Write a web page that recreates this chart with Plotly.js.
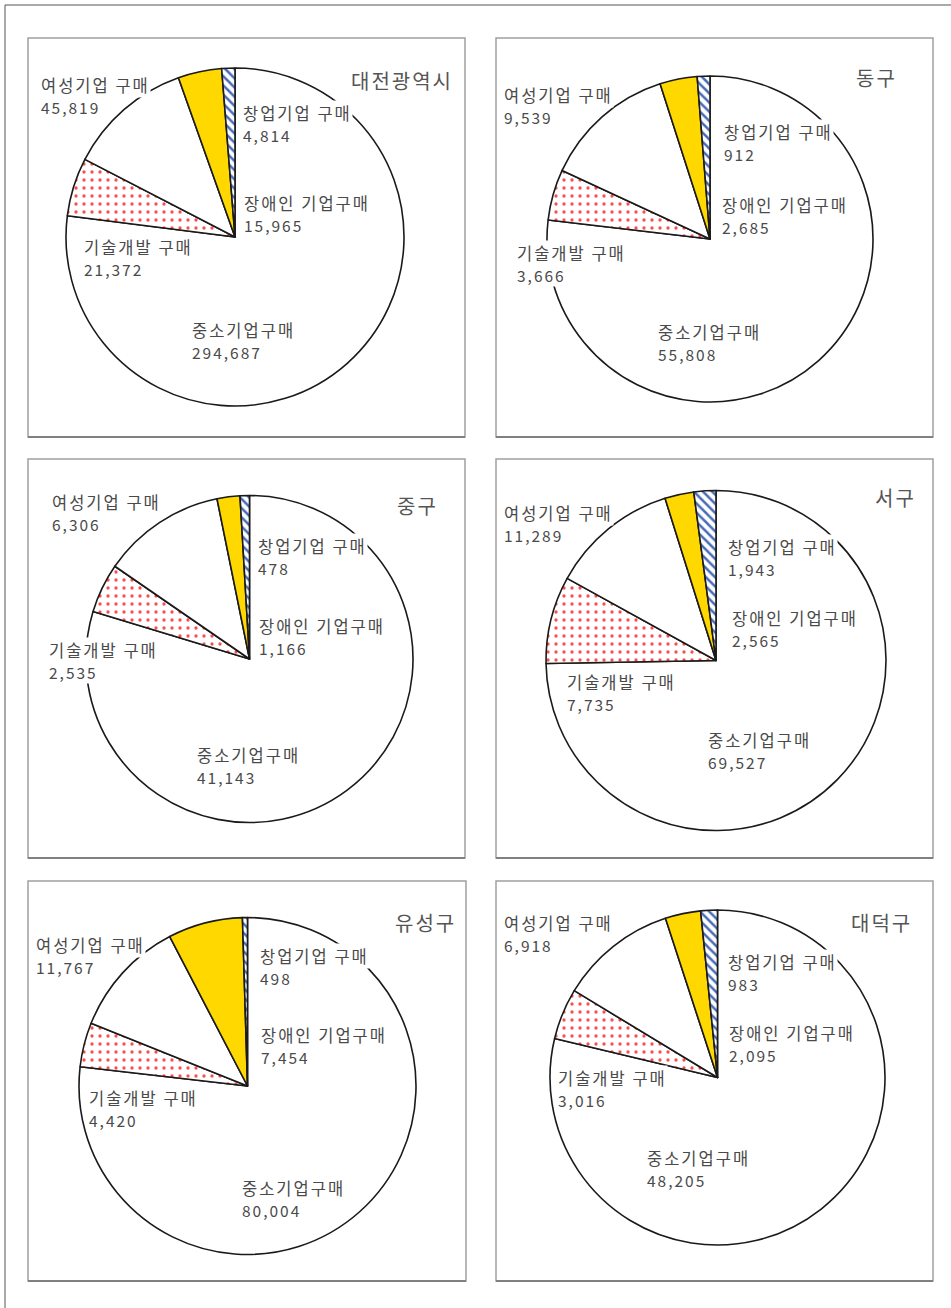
<!DOCTYPE html>
<html>
<head>
<meta charset="utf-8">
<script src="https://cdn.plot.ly/plotly-3.0.1.min.js"></script>
<style>
  html, body { margin: 0; padding: 0; background: #ffffff; }
  #chart { width: 951px; height: 1308px; }
  text.annotation-text { letter-spacing: 2px; }
</style>
</head>
<body>
<div id="chart"></div>
<script>
// ---- data ----
const categories = ['중소기업구매', '기술개발 구매', '여성기업 구매', '장애인 기업구매', '창업기업 구매'];
const regions = ['대전광역시', '동구', '중구', '서구', '유성구', '대덕구'];
const daejeon = [294687, 21372, 45819, 15965, 4814];
const donggu  = [55808, 3666, 9539, 2685, 912];
const junggu  = [41143, 2535, 6306, 1166, 478];
const seogu   = [69527, 7735, 11289, 2565, 1943];
const yuseong = [80004, 4420, 11767, 7454, 498];
const daedeok = [48205, 3016, 6918, 2095, 983];
const regionValues = [daejeon, donggu, junggu, seogu, yuseong, daedeok];

// ---- layout (pixel geometry) ----
const W = 951, H = 1308;
// panel boxes [x0, y0, x1, y1]
const panels = [
  [28, 38, 465, 437], [496, 38, 933, 437],
  [28, 459, 465, 858], [496, 459, 933, 858],
  [28, 881, 466, 1281], [496, 881, 933, 1281]
];
// pie centre and radius
const pies = [
  [235, 237, 169], [710, 239, 163],
  [249.5, 659, 163.5], [716, 660.5, 170],
  [247.5, 1086, 168.5], [717.5, 1077.5, 167.5]
];
// label anchor positions (left x, first-line centre y) per category, per panel
const labelPos = [
  [[191, 330], [83, 247], [40, 85], [243, 203], [242, 113]],
  [[657, 332], [516, 253], [503, 95], [721, 205], [723, 132]],
  [[196, 755], [48, 650], [51, 502], [258, 626], [257, 546]],
  [[707, 740], [566, 682], [503, 513], [731, 618], [727, 547]],
  [[241, 1188], [88, 1098], [35, 945], [260, 1035], [259, 956]],
  [[646, 1158], [557, 1078], [503, 923], [728, 1033], [727, 962]]
];
const lineGap = 22;
// title anchor (right x, middle y)
const titlePos = [[455, 80], [899, 77], [440, 505], [918, 497], [458, 922], [914, 922]];

const sliceColors = ['#ffffff', '#ff4a4a', '#ffffff', '#ffd800', '#4a6cb8'];
const sliceShapes = ['', '.', '', '', '\\'];

const traces = [];
const annotations = [];
const shapes = [];

regions.forEach((reg, i) => {
  const [cx, cy, r] = pies[i];
  traces.push({
    type: 'pie',
    labels: categories,
    values: regionValues[i],
    sort: false,
    direction: 'clockwise',
    rotation: 0,
    textinfo: 'none',
    hoverinfo: 'label+value',
    showlegend: false,
    domain: {
      x: [(cx - r) / W, (cx + r) / W],
      y: [1 - (cy + r) / H, 1 - (cy - r) / H]
    },
    marker: {
      colors: sliceColors,
      line: { color: '#1a1a1a', width: 1.6 },
      pattern: {
        shape: sliceShapes,
        fillmode: 'replace',
        bgcolor: '#ffffff',
        size: [8, 8, 8, 8, 6.5],
        solidity: [0.3, 0.13, 0.3, 0.3, 0.38]
      }
    }
  });

  categories.forEach((cat, k) => {
    const [lx, ly] = labelPos[i][k];
    annotations.push({
      xref: 'x', yref: 'y', x: lx, y: ly,
      xanchor: 'left', yanchor: 'middle', align: 'left',
      showarrow: false,
      text: cat,
      font: { family: 'Noto Sans CJK KR, sans-serif', size: 16.5, color: '#4a4a4a' },
      bgcolor: '#ffffff', borderpad: 0
    });
    annotations.push({
      xref: 'x', yref: 'y', x: lx, y: ly + lineGap,
      xanchor: 'left', yanchor: 'middle', align: 'left',
      showarrow: false,
      text: regionValues[i][k].toLocaleString('en-US'),
      font: { family: 'Noto Sans CJK KR, sans-serif', size: 15.5, color: '#4a4a4a' },
      bgcolor: '#ffffff', borderpad: 0
    });
  });

  const [tx, ty] = titlePos[i];
  annotations.push({
    xref: 'x', yref: 'y', x: tx, y: ty,
    xanchor: 'right', yanchor: 'middle',
    showarrow: false, text: reg,
    font: { family: 'Noto Sans CJK KR, sans-serif', size: 20, color: '#555555' }
  });

  const [x0, y0, x1, y1] = panels[i];
  shapes.push({
    type: 'rect', xref: 'x', yref: 'y', x0: x0, y0: y0, x1: x1, y1: y1,
    line: { color: '#a0a0a0', width: 1.5 }, fillcolor: 'rgba(0,0,0,0)', layer: 'below'
  });
  shapes.push({
    type: 'line', xref: 'x', yref: 'y', x0: x0, y0: y1, x1: x1, y1: y1,
    line: { color: '#808080', width: 2 }, layer: 'below'
  });
});

// outer frame: left and top lines
shapes.push({ type: 'line', xref: 'x', yref: 'y', x0: 5, y0: 5, x1: 5, y1: H, line: { color: '#555555', width: 1 } });
shapes.push({ type: 'line', xref: 'x', yref: 'y', x0: 5, y0: 5, x1: W, y1: 5, line: { color: '#555555', width: 1 } });

const layout = {
  width: W, height: H,
  margin: { l: 0, r: 0, t: 0, b: 0 },
  paper_bgcolor: '#ffffff', plot_bgcolor: '#ffffff',
  xaxis: { range: [0, W], visible: false, fixedrange: true },
  yaxis: { range: [H, 0], visible: false, fixedrange: true },
  shapes: shapes,
  annotations: annotations,
  showlegend: false
};

Plotly.newPlot('chart', traces, layout, { displayModeBar: false, staticPlot: true });
</script>
</body>
</html>
